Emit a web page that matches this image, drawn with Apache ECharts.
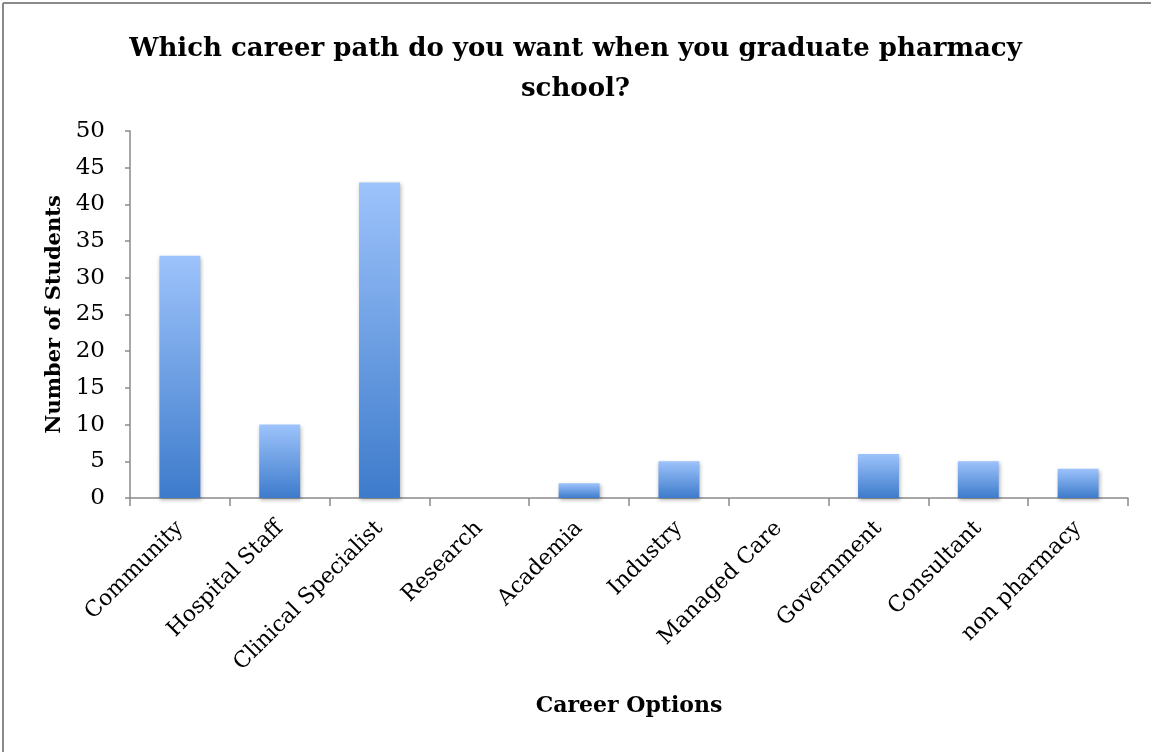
<!DOCTYPE html>
<html>
<head>
<meta charset="utf-8">
<script src="https://cdn.jsdelivr.net/npm/echarts@6/dist/echarts.min.js"></script>
<style>
html,body{margin:0;padding:0;background:#fff;}
#chart{width:1151px;height:752px;}
</style>
</head>
<body>
<div id="chart"></div>
<script>
const titleText = 'Which career path do you want when you graduate pharmacy\nschool?';
const categories = ['Community', 'Hospital Staff', 'Clinical Specialist', 'Research', 'Academia', 'Industry', 'Managed Care', 'Government', 'Consultant', 'non pharmacy'];
const students = [33, 10, 43, 0, 2, 5, 0, 6, 5, 4];
const yAxisName = 'Number of Students';
const xAxisName = 'Career Options';

const FONT = '"DejaVu Serif", serif';
const chart = echarts.init(document.getElementById('chart'), null, {renderer: 'canvas'});
chart.setOption({
  backgroundColor: '#ffffff',
  animation: false,
  title: {
    text: titleText,
    left: 'center',
    top: 24,
    textStyle: {fontFamily: FONT, fontSize: 26, fontWeight: 'bold', color: '#000', lineHeight: 40}
  },
  graphic: [
    {type: 'line', shape: {x1: 3, y1: 3, x2: 1151, y2: 3}, style: {stroke: '#8a8a8a', lineWidth: 2}},
    {type: 'line', shape: {x1: 3, y1: 3, x2: 3, y2: 752}, style: {stroke: '#8a8a8a', lineWidth: 2}}
  ],
  grid: {left: 130, right: 23, top: 131, bottom: 254, containLabel: false},
  xAxis: {
    type: 'category',
    data: categories,
    name: xAxisName,
    nameLocation: 'middle',
    nameGap: 208,
    nameTextStyle: {fontFamily: FONT, fontSize: 22, fontWeight: 'bold', color: '#000', verticalAlign: 'middle'},
    axisLine: {lineStyle: {color: '#8a8a8a', width: 1.5}},
    axisTick: {show: true, alignWithLabel: false, length: 8, lineStyle: {color: '#8a8a8a', width: 1.5}},
    axisLabel: {rotate: 45, margin: 27, interval: 0, fontFamily: FONT, fontSize: 22, color: '#000'}
  },
  yAxis: {
    type: 'value',
    min: 0,
    max: 50,
    interval: 5,
    name: yAxisName,
    nameLocation: 'middle',
    nameGap: 62,
    nameTextStyle: {fontFamily: FONT, fontSize: 21, fontWeight: 'bold', color: '#000'},
    splitLine: {show: false},
    axisLine: {show: true, lineStyle: {color: '#8a8a8a', width: 1.5}},
    axisTick: {show: true, length: 5, lineStyle: {color: '#8a8a8a', width: 1.5}},
    axisLabel: {margin: 25, fontFamily: FONT, fontSize: 23, color: '#000'}
  },
  series: [{
    type: 'bar',
    data: students,
    barWidth: '41%',
    itemStyle: {
      color: new echarts.graphic.LinearGradient(0, 0, 0, 1, [
        {offset: 0, color: '#9dc3fb'},
        {offset: 1, color: '#3d7bcb'}
      ]),
      shadowColor: 'rgba(0,0,0,0.3)',
      shadowBlur: 4,
      shadowOffsetX: 1,
      shadowOffsetY: 2
    }
  }]
});
</script>
</body>
</html>
